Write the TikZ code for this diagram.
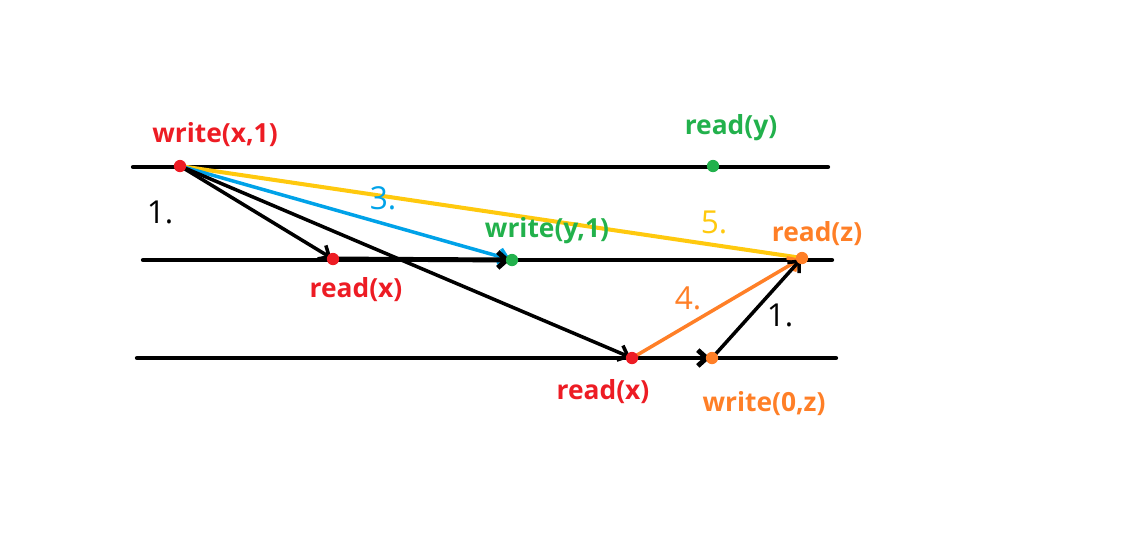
\documentclass[tikz,border=0pt]{standalone}
\usepackage{fontspec}
\setmainfont{Open Sans}
\usetikzlibrary{arrows.meta}
\definecolor{pred}{RGB}{237,28,36}
\definecolor{pgreen}{RGB}{34,177,76}
\definecolor{porange}{RGB}{255,127,39}
\definecolor{pblue}{RGB}{0,162,232}
\definecolor{pyellow}{RGB}{255,201,14}
\begin{document}
\begin{tikzpicture}[x=0.02cm,y=-0.02cm,
      timeline/.style={line width=2.4pt,line cap=round},
      msg/.style={-{Straight Barb[length=5pt,width=9pt]},line width=2pt,shorten >=1pt},
      event/.style={circle,fill,inner sep=0pt,minimum size=7pt},
      lbl/.style={font=\bfseries\fontsize{15}{18}\selectfont},
      num/.style={font=\fontsize{18}{20}\selectfont}]
    \useasboundingbox (0,0) rectangle (1136,559);
    % processes
    \coordinate (p1a) at (133,167);
    \coordinate (p1b) at (828,167);
    \coordinate (p2a) at (143,260);
    \coordinate (p2b) at (832,260);
    \coordinate (p3a) at (137,358);
    \coordinate (p3b) at (836,358);
    % events
    \coordinate (wx) at (180,166);
    \coordinate (ry) at (713,166);
    \coordinate (rx2) at (333,259);
    \coordinate (wy) at (512,260);
    \coordinate (rz) at (802,258);
    \coordinate (rx3) at (632,358);
    \coordinate (wz) at (712,358);
    \draw[timeline] (p1a) -- (p1b);
    \draw[timeline] (p2a) -- (p2b);
    \draw[timeline] (p3a) -- (p3b);
    % messages
    \draw[msg,pyellow,-,line width=2.3pt] (wx) -- (rz);
    \draw[msg,pblue] (wx) -- (wy);
    \draw[msg] (wx) -- (rx2);
    \draw[msg] (wx) -- (rx3);
    \draw[msg,line width=2.8pt] (rx2) -- (wy);
    \draw[msg,line width=2.8pt] (rx3) -- (wz);
    \draw[msg,porange] (rx3) -- (rz);
    \draw[msg] (wz) -- (rz);
    % dots
    \node[event,pred] (dwx) at (wx) {};
    \node[event,pgreen] (dry) at (ry) {};
    \node[event,pred] (drx2) at (rx2) {};
    \node[event,pgreen] (dwy) at (wy) {};
    \node[event,porange] (drz) at (rz) {};
    \node[event,pred] (drx3) at (rx3) {};
    \node[event,porange] (dwz) at (wz) {};
    % labels
    \node[lbl,pred] (twx) at (215,135) {write(x,1)};
    \node[lbl,pgreen] (try) at (731,128) {read(y)};
    \node[lbl,pred] (trx2) at (356,290) {read(x)};
    \node[lbl,pgreen] (twy) at (547,231) {write(y,1)};
    \node[lbl,porange] (trz) at (817,234) {read(z)};
    \node[lbl,pred] (trx3) at (603,392) {read(x)};
    \node[lbl,porange] (twz) at (764,404) {write(0,z)};
    % order numbers
    \node[num] (n1a) at (160,212) {1.};
    \node[num,pblue] (n3) at (383,198) {3.};
    \node[num,pyellow] (n5) at (714,222) {5.};
    \node[num,porange] (n4) at (688,298) {4.};
    \node[num] (n1b) at (780,315) {1.};
\end{tikzpicture}
\end{document}
